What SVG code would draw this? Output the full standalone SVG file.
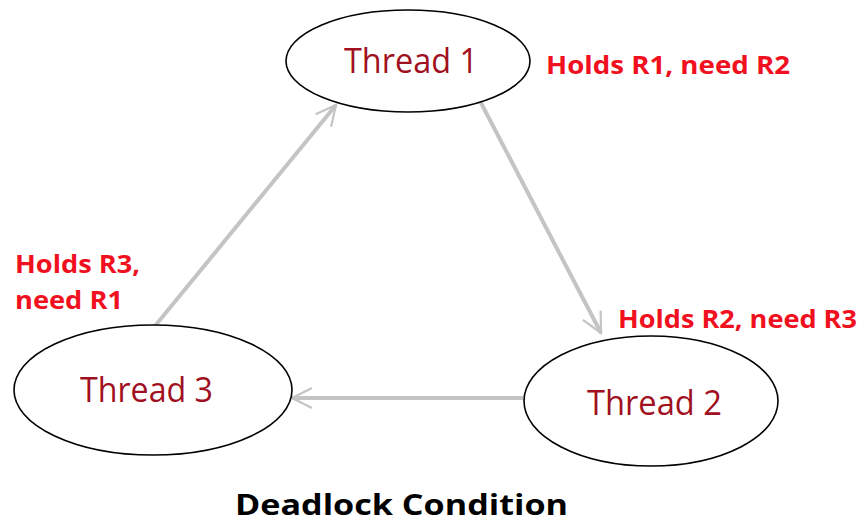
<svg xmlns="http://www.w3.org/2000/svg" width="864" height="523" viewBox="0 0 864 523">
  <style>
    .node ellipse { fill: #ffffff; stroke: #000000; stroke-width: 1.6; }
    .node text { font-family: "Open Sans", "Liberation Sans", sans-serif; font-size: 34px; fill: #a01020; }
    .note { font-family: "Open Sans", "Liberation Sans", sans-serif; font-weight: bold; font-size: 25px; fill: #f01020; }
    .title { font-family: "Open Sans", "Liberation Sans", sans-serif; font-weight: bold; font-size: 29px; fill: #000000; }
    .edge { stroke: #c4c4c4; stroke-width: 4; fill: none; marker-end: url(#vhead); }
  </style>
  <defs>
    <marker id="vhead" viewBox="0 0 12 12" refX="11" refY="6" markerWidth="6" markerHeight="6" orient="auto" markerUnits="strokeWidth">
      <polyline points="1,1 11,6 1,11" fill="none" stroke="#c4c4c4" stroke-width="1.1"/>
    </marker>
  </defs>

  <rect width="864" height="523" fill="#ffffff"/>

  <!-- connectors: wait-for cycle -->
  <g id="connectors">
    <line class="edge" x1="155" y1="326" x2="336" y2="105"/>
    <line class="edge" x1="480" y1="101" x2="601" y2="333"/>
    <line class="edge" x1="523" y1="398" x2="292" y2="398"/>
  </g>

  <g id="thread1" class="node">
    <ellipse cx="408" cy="61" rx="122" ry="51"/>
    <text x="344" y="73" textLength="134" lengthAdjust="spacingAndGlyphs">Thread 1</text>
  </g>

  <g id="thread2" class="node">
    <ellipse cx="651" cy="401" rx="127" ry="65"/>
    <text x="587" y="415" textLength="135" lengthAdjust="spacingAndGlyphs">Thread 2</text>
  </g>

  <g id="thread3" class="node">
    <ellipse cx="153" cy="390" rx="139" ry="65"/>
    <text x="80" y="402" textLength="133" lengthAdjust="spacingAndGlyphs">Thread 3</text>
  </g>

  <g id="labels">
    <text class="note" x="546" y="74" textLength="244" lengthAdjust="spacingAndGlyphs">Holds R1, need R2</text>
    <text class="note" x="618" y="328" textLength="239" lengthAdjust="spacingAndGlyphs">Holds R2, need R3</text>
    <text class="note" x="15" y="273" textLength="125" lengthAdjust="spacingAndGlyphs">Holds R3,</text>
    <text class="note" x="15" y="309" textLength="108" lengthAdjust="spacingAndGlyphs">need R1</text>
  </g>

  <text class="title" x="235" y="515" textLength="333" lengthAdjust="spacingAndGlyphs">Deadlock Condition</text>
</svg>
